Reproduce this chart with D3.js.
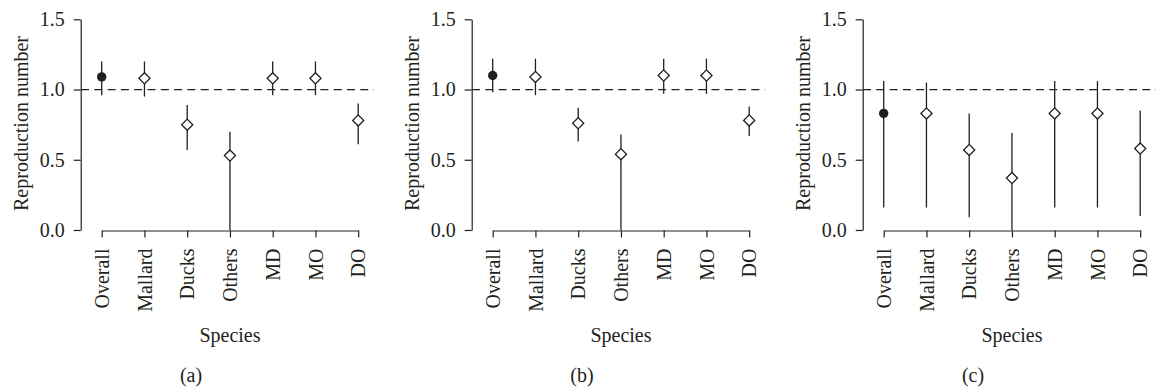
<!DOCTYPE html>
<html lang="en">
<head>
    <meta charset="UTF-8">
    <title>Reproduction number by species</title>
    <script type="text/javascript" src="https://cdn.jsdelivr.net/npm/d3@7"></script>
    <style>
        body {
            margin: 0;
            background: #fff;
        }

        .axis path,
        .axis line {
            stroke: #231f20;
            stroke-width: 1.2px;
        }

        .axis text,
        .label {
            font-family: "Liberation Serif", "Times New Roman", serif;
            font-size: 20px;
            fill: #231f20;
        }
    </style>
</head>
<body>
<script type="text/javascript">
    var w = 1156;
    var h = 390;

    var species = ["Overall", "Mallard", "Ducks", "Others", "MD", "MO", "DO"];
    var yTicks = [0, 0.5, 1.0, 1.5];
    var panelLabels = ["(a)", "(b)", "(c)"];

    // point estimates and interval ends
    var estA  = [1.09, 1.08, 0.75, 0.53, 1.08, 1.08, 0.78];
    var lowA  = [0.96, 0.95, 0.57, 0.00, 0.96, 0.96, 0.61];
    var highA = [1.20, 1.20, 0.89, 0.70, 1.20, 1.20, 0.90];

    var estB  = [1.10, 1.09, 0.76, 0.54, 1.10, 1.10, 0.78];
    var lowB  = [0.98, 0.96, 0.63, 0.00, 0.97, 0.97, 0.67];
    var highB = [1.22, 1.22, 0.87, 0.68, 1.22, 1.22, 0.88];

    var estC  = [0.83, 0.83, 0.57, 0.37, 0.83, 0.83, 0.58];
    var lowC  = [0.16, 0.16, 0.09, 0.00, 0.16, 0.16, 0.10];
    var highC = [1.06, 1.05, 0.83, 0.69, 1.06, 1.06, 0.85];

    var panels = [
        {est: estA, low: lowA, high: highA},
        {est: estB, low: lowB, high: highB},
        {est: estC, low: lowC, high: highC}
    ];

    var svg = d3.select("body")
        .append("svg")
        .attr("width", w)
        .attr("height", h);

    var yScale = d3.scaleLinear()
        .domain([0, 1.5])
        .range([230, 19.3]);

    var ink = "#231f20";

    panels.forEach(function (p, i) {
        var g = svg.append("g")
            .attr("transform", "translate(" + (i * 391) + ",0)");

        var rows = species.map(function (s, j) {
            return {name: s, est: p.est[j], low: p.low[j], high: p.high[j], first: j === 0};
        });

        var xScale = d3.scalePoint()
            .domain(species)
            .range([101.7, 358.2]);

        // reference line at R = 1
        g.append("line")
            .attr("x1", 81)
            .attr("x2", 374)
            .attr("y1", yScale(1))
            .attr("y2", yScale(1))
            .attr("stroke", ink)
            .attr("stroke-width", 1.2)
            .attr("stroke-dasharray", "8,5.3");

        var yAxis = d3.axisLeft(yScale)
            .tickValues(yTicks)
            .tickFormat(d3.format(".1f"))
            .tickSize(7)
            .tickSizeOuter(0)
            .tickPadding(9);

        g.append("g")
            .attr("class", "axis")
            .attr("transform", "translate(80.7,0)")
            .call(yAxis);

        var xAxis = d3.axisBottom(xScale)
            .tickSize(7)
            .tickSizeOuter(0);

        var xg = g.append("g")
            .attr("class", "axis")
            .attr("transform", "translate(0,230.5)")
            .call(xAxis);

        xg.selectAll("text")
            .attr("transform", "rotate(-90)")
            .attr("text-anchor", "end")
            .attr("x", -18)
            .attr("y", 0)
            .attr("dy", "0.33em");

        // intervals
        g.selectAll("line.ci")
            .data(rows)
            .enter()
            .append("line")
            .attr("class", "ci")
            .attr("x1", function (d) { return xScale(d.name); })
            .attr("x2", function (d) { return xScale(d.name); })
            .attr("y1", function (d) { return yScale(d.low); })
            .attr("y2", function (d) { return yScale(d.high); })
            .attr("stroke", ink)
            .attr("stroke-width", 1.3);

        // overall estimate: filled dot
        g.selectAll("circle")
            .data(rows.filter(function (d) { return d.first; }))
            .enter()
            .append("circle")
            .attr("cx", function (d) { return xScale(d.name); })
            .attr("cy", function (d) { return yScale(d.est); })
            .attr("r", 4.7)
            .attr("fill", ink);

        // group estimates: open diamonds
        g.selectAll("path.pt")
            .data(rows.filter(function (d) { return !d.first; }))
            .enter()
            .append("path")
            .attr("class", "pt")
            .attr("d", d3.symbol(d3.symbolSquare, 62))
            .attr("transform", function (d) {
                return "translate(" + xScale(d.name) + "," + yScale(d.est) + ") rotate(45)";
            })
            .attr("fill", "#fff")
            .attr("stroke", ink)
            .attr("stroke-width", 1.3);

        g.append("text")
            .attr("class", "label")
            .attr("transform", "translate(28," + 123.5 + ") rotate(-90)")
            .attr("text-anchor", "middle")
            .text("Reproduction number");

        g.append("text")
            .attr("class", "label")
            .attr("x", xScale("Others"))
            .attr("y", 342)
            .attr("text-anchor", "middle")
            .text("Species");

        g.append("text")
            .attr("class", "label")
            .attr("x", 191)
            .attr("y", 382)
            .attr("text-anchor", "middle")
            .text(panelLabels[i]);
    });
</script>
</body>
</html>
